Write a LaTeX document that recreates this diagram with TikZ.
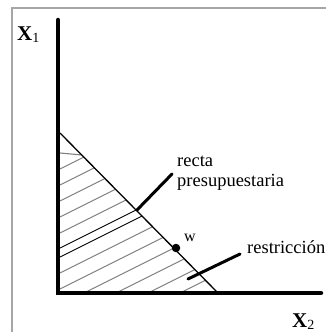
\documentclass[tikz,border=0pt]{standalone}
\usepackage{fontspec}
\setmainfont{Liberation Serif}
\begin{document}
\begin{tikzpicture}[x=1pt,y=-1pt,
  axis/.style={line width=4.5pt,line cap=round},
  leader/.style={line width=3pt,line cap=round},
  hatchline/.style={draw=black!50,line width=1.1pt},
  blackhatch/.style={draw=black,line width=0.9pt},
  lbl/.style={inner sep=0pt,anchor=base west,font=\fontsize{18.5}{20}\selectfont},
  axlbl/.style={inner sep=0pt,anchor=base west,font=\fontsize{21}{22}\selectfont\bfseries}]
\useasboundingbox (0,0) rectangle (326,332);
% frame
\draw[draw=black!35,line width=1.5pt] (12,332) -- (12,8) -- (326,8);
% triangle corners
\coordinate (A) at (60,133);
\coordinate (O) at (60,293);
\coordinate (B) at (218,293);
% hatch
\begin{scope}
\clip (A) -- (O) -- (B) -- cycle;
\draw[hatchline] (60,153) -- (82,155);
\foreach \y in {169,185,201,217,233,273,289,305,321,337,353,369}
  \draw[hatchline] (60,\y) -- ++(200,-100);
\draw[blackhatch] (60,248) -- ++(200,-100);
\draw[blackhatch] (60,257) -- ++(200,-100);
\end{scope}
% budget line
\draw[line width=1.3pt] (A) -- (B);
% axes
\coordinate (ytop) at (58,20);
\coordinate (orig) at (58,293);
\coordinate (xend) at (321,293);
\draw[axis] (ytop) -- (orig) -- (xend);
% labels
\node[axlbl] (x1) at (17,40) {X\raisebox{-2pt}{\fontsize{14}{14}\selectfont\mdseries 1}};
\node[axlbl] (x2) at (292,327) {X\raisebox{-2pt}{\fontsize{14}{14}\selectfont\mdseries 2}};
% recta presupuestaria
\node[lbl] (recta) at (177,166) {recta};
\node[lbl] (presu) at (177,186) {presupuestaria};
\coordinate (r1) at (137,210);
\coordinate (r2) at (172,174);
\draw[leader] (r1) -- (r2);
% point w
\node[circle,fill=black,inner sep=0pt,minimum size=8.5pt] (w) at (176,248) {};
\node[lbl,font=\fontsize{16}{18}\selectfont] (wl) at (184,241) {w};
% restriccion
\node[lbl] (restr) at (247,253) {restricción};
\coordinate (s1) at (188,279);
\coordinate (s2) at (240,254);
\draw[leader] (s1) -- (s2);
\end{tikzpicture}
\end{document}
